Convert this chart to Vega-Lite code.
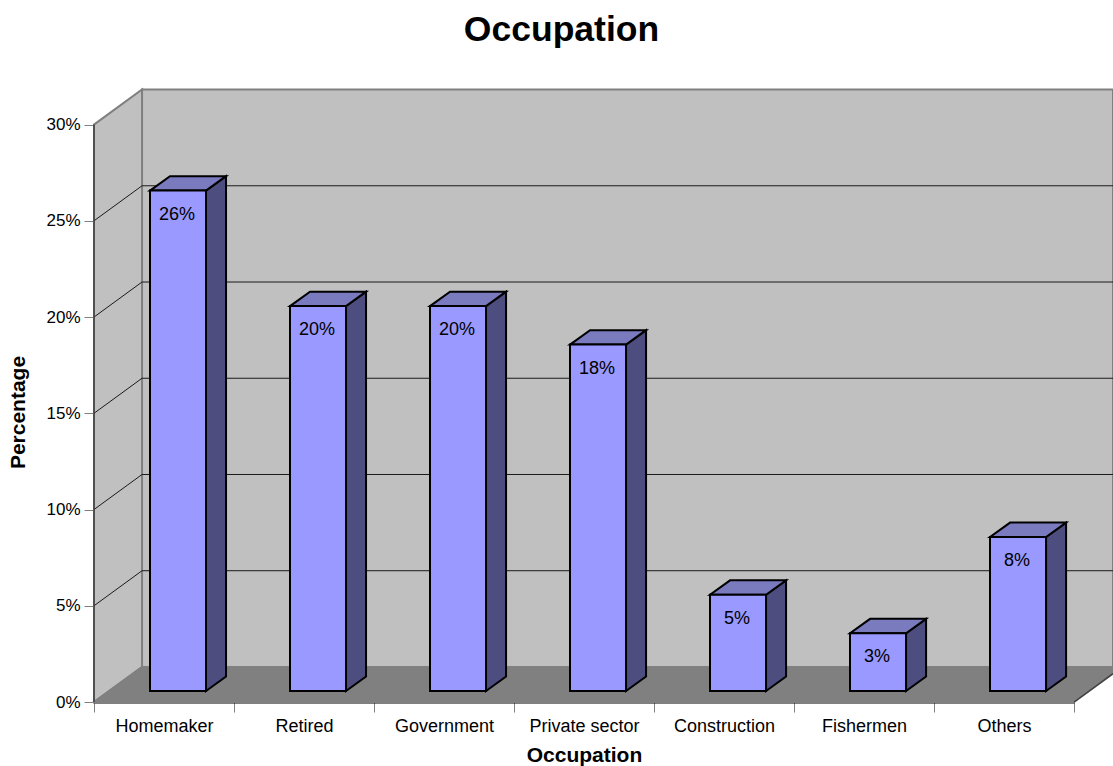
{
"$schema":"https://vega.github.io/schema/vega-lite/v6.json",
"width":1019,"height":614,
"autosize":{"type":"none"},
"padding":{"left":94,"top":88,"right":0,"bottom":64},
"background":"white",
"view":{"stroke":null},
"config":{"font":"Liberation Sans"},
"title":{"text":"Occupation","font":"Liberation Sans","fontSize":35.5,"fontWeight":"bold","color":"#000000","anchor":"middle","frame":"group","dx":-42,"offset":37},
"datasets":{
"bars":[{"occupation":"Homemaker","value":26,"label":"26%"},{"occupation":"Retired","value":20,"label":"20%"},{"occupation":"Government","value":20,"label":"20%"},{"occupation":"Private sector","value":18,"label":"18%"},{"occupation":"Construction","value":5,"label":"5%"},{"occupation":"Fishermen","value":3,"label":"3%"},{"occupation":"Others","value":8,"label":"8%"}],
"planes":[
{"plane":"back","u":0.343,"lo":1.82,"hi":31.82},{"plane":"back","u":7.278,"lo":1.82,"hi":31.82},
{"plane":"left","u":0,"lo":0,"hi":30},{"plane":"left","u":0.343,"lo":1.82,"hi":31.82},
{"plane":"floor","u":0,"lo":0,"hi":0},{"plane":"floor","u":0.343,"lo":0,"hi":1.82},{"plane":"floor","u":7,"lo":0,"hi":1.82},{"plane":"floor","u":7.278,"lo":1.48,"hi":1.82}
],
"grid":[
{"g":5,"u":0,"v":5},{"g":5,"u":0.343,"v":6.82},{"g":5,"u":7.278,"v":6.82},
{"g":10,"u":0,"v":10},{"g":10,"u":0.343,"v":11.82},{"g":10,"u":7.278,"v":11.82},
{"g":15,"u":0,"v":15},{"g":15,"u":0.343,"v":16.82},{"g":15,"u":7.278,"v":16.82},
{"g":20,"u":0,"v":20},{"g":20,"u":0.343,"v":21.82},{"g":20,"u":7.278,"v":21.82},
{"g":25,"u":0,"v":25},{"g":25,"u":0.343,"v":26.82},{"g":25,"u":7.278,"v":26.82}
],
"edges":[
{"e":"axis","u":0,"v":0},{"e":"axis","u":0,"v":30},
{"e":"right","u":7,"v":0},{"e":"right","u":7.278,"v":1.48}
],
"sides":[
{"b":"Homemaker","u":0.8,"lo":0.57,"hi":26.57},{"b":"Homemaker","u":0.943,"lo":1.32,"hi":27.32},
{"b":"Retired","u":1.8,"lo":0.57,"hi":20.57},{"b":"Retired","u":1.943,"lo":1.32,"hi":21.32},
{"b":"Government","u":2.8,"lo":0.57,"hi":20.57},{"b":"Government","u":2.943,"lo":1.32,"hi":21.32},
{"b":"Private sector","u":3.8,"lo":0.57,"hi":18.57},{"b":"Private sector","u":3.943,"lo":1.32,"hi":19.32},
{"b":"Construction","u":4.8,"lo":0.57,"hi":5.57},{"b":"Construction","u":4.943,"lo":1.32,"hi":6.32},
{"b":"Fishermen","u":5.8,"lo":0.57,"hi":3.57},{"b":"Fishermen","u":5.943,"lo":1.32,"hi":4.32},
{"b":"Others","u":6.8,"lo":0.57,"hi":8.57},{"b":"Others","u":6.943,"lo":1.32,"hi":9.32}
],
"tops":[
{"b":"Homemaker","u":0.4,"lo":26.57,"hi":26.57},{"b":"Homemaker","u":0.543,"lo":26.57,"hi":27.32},{"b":"Homemaker","u":0.8,"lo":26.57,"hi":27.32},{"b":"Homemaker","u":0.943,"lo":27.32,"hi":27.32},
{"b":"Retired","u":1.4,"lo":20.57,"hi":20.57},{"b":"Retired","u":1.543,"lo":20.57,"hi":21.32},{"b":"Retired","u":1.8,"lo":20.57,"hi":21.32},{"b":"Retired","u":1.943,"lo":21.32,"hi":21.32},
{"b":"Government","u":2.4,"lo":20.57,"hi":20.57},{"b":"Government","u":2.543,"lo":20.57,"hi":21.32},{"b":"Government","u":2.8,"lo":20.57,"hi":21.32},{"b":"Government","u":2.943,"lo":21.32,"hi":21.32},
{"b":"Private sector","u":3.4,"lo":18.57,"hi":18.57},{"b":"Private sector","u":3.543,"lo":18.57,"hi":19.32},{"b":"Private sector","u":3.8,"lo":18.57,"hi":19.32},{"b":"Private sector","u":3.943,"lo":19.32,"hi":19.32},
{"b":"Construction","u":4.4,"lo":5.57,"hi":5.57},{"b":"Construction","u":4.543,"lo":5.57,"hi":6.32},{"b":"Construction","u":4.8,"lo":5.57,"hi":6.32},{"b":"Construction","u":4.943,"lo":6.32,"hi":6.32},
{"b":"Fishermen","u":5.4,"lo":3.57,"hi":3.57},{"b":"Fishermen","u":5.543,"lo":3.57,"hi":4.32},{"b":"Fishermen","u":5.8,"lo":3.57,"hi":4.32},{"b":"Fishermen","u":5.943,"lo":4.32,"hi":4.32},
{"b":"Others","u":6.4,"lo":8.57,"hi":8.57},{"b":"Others","u":6.543,"lo":8.57,"hi":9.32},{"b":"Others","u":6.8,"lo":8.57,"hi":9.32},{"b":"Others","u":6.943,"lo":9.32,"hi":9.32}
]
},
"resolve":{"scale":{"x":"independent"},"axis":{"x":"independent"}},
"layer":[
{"data":{"name":"planes"},
 "mark":{"type":"area","stroke":"#808080","strokeWidth":2,"opacity":1},
 "encoding":{
  "x":{"field":"u","type":"quantitative","scale":{"domain":[0,7.278],"nice":false,"zero":false},"axis":null},
  "y":{"field":"lo","type":"quantitative","scale":{"domain":[0,31.9],"nice":false,"zero":false},
   "axis":{"values":[0,5,10,15,20,25,30],"labelExpr":"datum.value + '%'","title":"Percentage","titleFont":"Liberation Sans","titleFontSize":21,"titleFontWeight":"bold","titleColor":"#000000","titleX":-66,"titleY":324,"titleAngle":-90,"labelFont":"Liberation Sans","labelFontSize":17,"labelColor":"#000000","labelPadding":4,"tickColor":"#808080","tickSize":10,"tickWidth":1,"domain":false,"grid":false}},
  "y2":{"field":"hi"},
  "fill":{"field":"plane","type":"nominal","scale":{"domain":["back","left","floor"],"range":["#c0c0c0","#c0c0c0","#808080"]},"legend":null}
 }},
{"data":{"name":"grid"},
 "mark":{"type":"line","color":"#1a1a1a","strokeWidth":1},
 "encoding":{
  "x":{"field":"u","type":"quantitative","scale":{"domain":[0,7.278],"nice":false,"zero":false},"axis":null},
  "y":{"field":"v","type":"quantitative"},
  "detail":{"field":"g","type":"nominal"}
 }},
{"data":{"name":"edges"},
 "mark":{"type":"line","color":"#404040","strokeWidth":1.5},
 "encoding":{
  "x":{"field":"u","type":"quantitative","scale":{"domain":[0,7.278],"nice":false,"zero":false},"axis":null},
  "y":{"field":"v","type":"quantitative"},
  "detail":{"field":"e","type":"nominal"}
 }},
{"data":{"name":"sides"},
 "mark":{"type":"area","fill":"#4d4d80","stroke":"#000000","strokeWidth":2,"opacity":1},
 "encoding":{
  "x":{"field":"u","type":"quantitative","scale":{"domain":[0,7.278],"nice":false,"zero":false},"axis":null},
  "y":{"field":"lo","type":"quantitative"},
  "y2":{"field":"hi"},
  "detail":{"field":"b","type":"nominal"}
 }},
{"data":{"name":"tops"},
 "mark":{"type":"area","fill":"#7a7abf","stroke":"#000000","strokeWidth":2,"opacity":1},
 "encoding":{
  "x":{"field":"u","type":"quantitative","scale":{"domain":[0,7.278],"nice":false,"zero":false},"axis":null},
  "y":{"field":"lo","type":"quantitative"},
  "y2":{"field":"hi"},
  "detail":{"field":"b","type":"nominal"}
 }},
{"data":{"name":"bars"},
 "mark":{"type":"bar","width":56,"xOffset":14,"yOffset":-11,"fill":"#9999ff","stroke":"#000000","strokeWidth":2},
 "encoding":{
  "x":{"field":"occupation","type":"nominal","sort":null,
   "scale":{"domain":["Homemaker","Retired","Government","Private sector","Construction","Fishermen","Others"],"range":[0,980],"paddingInner":0,"paddingOuter":0},
   "axis":{"title":"Occupation","titleFont":"Liberation Sans","titleFontSize":21,"titleFontWeight":"bold","titleColor":"#000000","titleX":490,"titleY":42,"labelAngle":0,"labelFont":"Liberation Sans","labelFontSize":18,"labelColor":"#000000","labelPadding":5,"tickBand":"extent","tickColor":"#808080","tickSize":10,"tickWidth":1,"domainColor":"#000000","domainWidth":2,"grid":false}},
  "y":{"field":"value","type":"quantitative"}
 }},
{"data":{"name":"bars"},
 "mark":{"type":"text","font":"Liberation Sans","fontSize":18,"color":"#000000","xOffset":13,"yOffset":13,"align":"center","baseline":"middle"},
 "encoding":{
  "x":{"field":"occupation","type":"nominal","sort":null,
   "scale":{"domain":["Homemaker","Retired","Government","Private sector","Construction","Fishermen","Others"],"range":[0,980],"paddingInner":0,"paddingOuter":0},"axis":null},
  "y":{"field":"value","type":"quantitative"},
  "text":{"field":"label","type":"nominal"}
 }
}
]
}
